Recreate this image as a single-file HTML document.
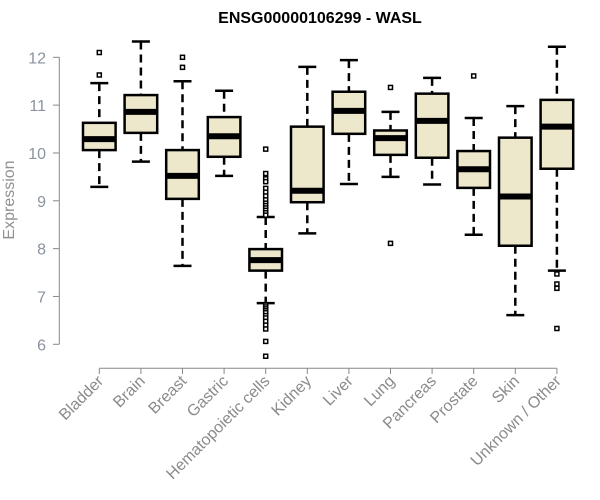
<!DOCTYPE html>
<html><head><meta charset="utf-8"><style>
body{margin:0;background:#fff}
svg{display:block;font-family:"Liberation Sans",sans-serif}
</style></head><body>
<svg id="chart" width="600" height="500">
<text x="320" y="23" text-anchor="middle" font-weight="bold" font-size="16">ENSG00000106299 - WASL</text>
<text transform="translate(14,200) rotate(-90)" text-anchor="middle" font-size="16" fill="#909090">Expression</text>
<g id="plot"></g>
</svg>
<script>
const categories=["Bladder","Brain","Breast","Gastric","Hematopoietic cells","Kidney","Liver","Lung","Pancreas","Prostate","Skin","Unknown / Other"];
const lowWhisker=[9.29,9.82,7.64,9.52,6.86,8.32,9.35,9.50,9.34,8.29,6.61,7.54];
const q1=[10.06,10.42,9.04,9.92,7.54,8.97,10.40,9.96,9.90,9.27,8.06,9.67];
const medians=[10.29,10.86,9.52,10.35,7.76,9.21,10.88,10.31,10.67,9.66,9.09,10.55];
const q3=[10.63,11.21,10.06,10.75,7.99,10.55,11.28,10.47,11.24,10.04,10.32,11.11];
const highWhisker=[11.46,12.33,11.50,11.30,8.66,11.80,11.94,10.86,11.57,10.73,10.98,12.22];
const outliers=[[12.10,11.63],[],[12.0,11.79],[],
 [10.08,9.57,9.46,9.40,9.26,9.18,9.10,9.02,8.95,8.90,8.85,8.80,8.75,8.70,6.82,6.78,6.74,6.70,6.66,6.60,6.55,6.48,6.40,6.32,6.06,5.75],
 [],[],[11.37,8.11],[],[11.61],[],[7.47,7.26,7.17,6.33]];
const yTicks=[6,7,8,9,10,11,12];

const NS="http://www.w3.org/2000/svg";
const g=document.getElementById('plot');
const y=v=>57.3+(12-v)*47.83;
const x=i=>99.3+i*41.6;
function el(t,a){const e=document.createElementNS(NS,t);for(const k in a)e.setAttribute(k,a[k]);g.appendChild(e);return e;}
let ax=el('line',{x1:59.3,x2:59.3,y1:y(12),y2:y(6),stroke:'#888','stroke-width':1});


yTicks.forEach(t=>{
 const tk=el('line',{x1:53,x2:59.3,y1:y(t),y2:y(t),stroke:'#888'});
 
 
 const tl=el('text',{x:46,y:y(t)+6,'text-anchor':'end','font-size':16,fill:'#8a93a0'});
 tl.textContent=t;
 
 
});
let xa=el('line',{x1:x(0),x2:x(categories.length-1),y1:368.3,y2:368.3,stroke:'#888'});


categories.forEach((c,i)=>{
 const cx=x(i);
 const tk=el('line',{x1:cx,x2:cx,y1:368.3,y2:374,stroke:'#888'});
 
 
 const tl=el('text',{transform:`translate(${cx+5},${382}) rotate(-45)`,'text-anchor':'end','font-size':16,fill:'#8a8a8a'});
 tl.textContent=c;
 
 
 const w1=el('line',{x1:cx,x2:cx,y1:y(highWhisker[i]),y2:y(q3[i]),stroke:'#000','stroke-width':2.5,'stroke-dasharray':'8,5'});
 
 
 const w2=el('line',{x1:cx,x2:cx,y1:y(q1[i]),y2:y(lowWhisker[i]),stroke:'#000','stroke-width':2.5,'stroke-dasharray':'8,5'});
 
 
 [highWhisker[i],lowWhisker[i]].forEach(v=>{
  const cap=el('line',{x1:cx-9,x2:cx+9,y1:y(v),y2:y(v),stroke:'#000','stroke-width':2.5});
  
  
 });
 const b=el('rect',{x:cx-16.3,y:y(q3[i]),width:32.6,height:y(q1[i])-y(q3[i]),fill:'#ede7cc',stroke:'#000','stroke-width':2.5});
 
 
 const m=el('line',{x1:cx-16.3,x2:cx+16.3,y1:y(medians[i]),y2:y(medians[i]),stroke:'#000','stroke-width':6});
 
 
 outliers[i].forEach(v=>{
  const o=el('rect',{x:cx-2,y:y(v)-2,width:4,height:4,fill:'#fff',stroke:'#000','stroke-width':1.5});
  
  
 });
});
</script>
</body></html>
